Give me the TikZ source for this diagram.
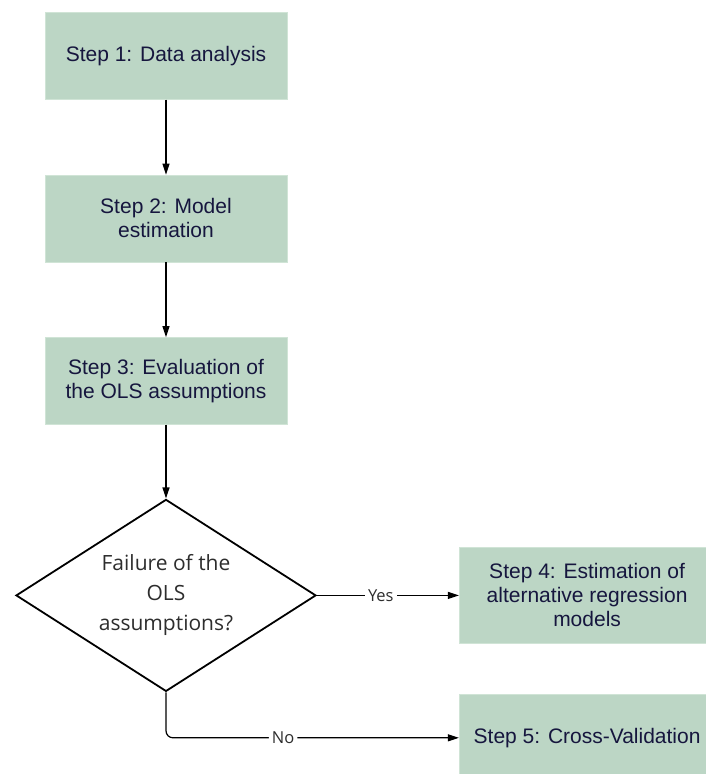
\documentclass[tikz,border=0pt]{standalone}
\usepackage{fontspec}
\setmainfont{Liberation Sans}
\newfontfamily\opensans{Open Sans}
\usetikzlibrary{arrows.meta, positioning, shapes.geometric}
\definecolor{boxgreen}{RGB}{188,214,197}
\definecolor{boxedge}{RGB}{208,228,214}
\definecolor{boxtext}{RGB}{22,22,62}
\definecolor{darktext}{RGB}{45,45,45}

\begin{document}
\begin{tikzpicture}[
  x=1pt, y=1pt,
  stepbox/.style={draw=boxedge, fill=boxgreen, minimum width=242pt, minimum height=87pt, inner sep=0pt, text=boxtext, font=\fontsize{21}{24}\selectfont, align=center},
  decision/.style={draw, line width=1.8pt, diamond, aspect=1.5625, minimum width=300pt, minimum height=192pt, inner sep=0pt, text=darktext, font=\opensans\fontsize{21}{30}\selectfont, align=center},
  flow/.style={draw, line width=1.2pt, -{Triangle[length=11pt, width=7pt]}},
  lbl/.style={fill=white, text=darktext, font=\opensans\fontsize{16.5}{18}\selectfont, inner sep=3pt}
]
\useasboundingbox (0,0) rectangle (705,-774);
\node[stepbox] (s1) at (166,-56) {Step 1: Data analysis};
\node[stepbox, below=75pt of s1] (s2) {Step 2: Model\\estimation};
\node[stepbox, below=75pt of s2] (s3) {Step 3: Evaluation of\\the OLS assumptions};
\node[decision, below=74pt of s3] (ols) {Failure of the\\OLS\\assumptions?};
\node[stepbox, minimum width=256pt, minimum height=96pt, right=142pt of ols] (s4) {Step 4: Estimation of\\alternative regression\\models};
\node[stepbox, minimum width=256pt, minimum height=88pt, below=50pt of s4] (s5) {Step 5: Cross-Validation};
\draw[flow] (s1) -- (s2);
\draw[flow] (s2) -- (s3);
\draw[flow] (s3) -- (ols);
\draw[flow] (ols) -- node[lbl, pos=0.45] {Yes} (s4);
\draw[flow, rounded corners=7pt] (ols.south) |- node[lbl, pos=0.7] {No} (s5.west);
\end{tikzpicture}
\end{document}
